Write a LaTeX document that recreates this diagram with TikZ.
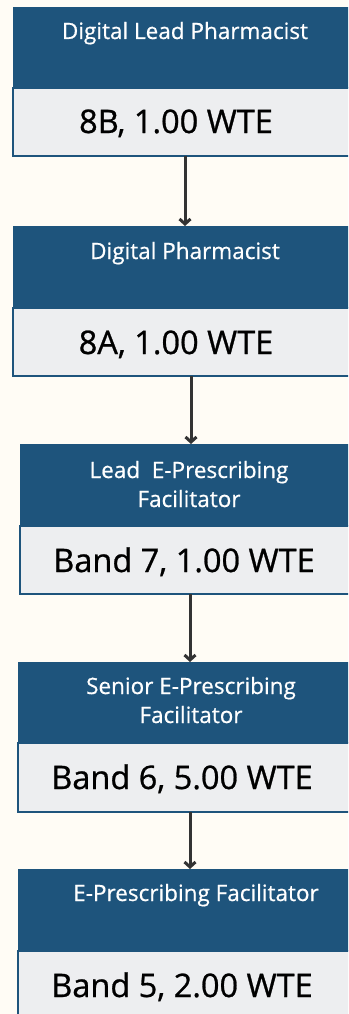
\documentclass[tikz,border=0pt]{standalone}
\usepackage{fontspec}
\setmainfont{Open Sans}
\newfontfamily\ttlfont[FakeBold=0.6]{Open Sans}
\newfontfamily\valfont[FakeBold=0.8]{Open Sans}
\usetikzlibrary{arrows.meta}
\definecolor{hdr}{HTML}{1E547C}
\definecolor{gry}{HTML}{EDEEF0}
\definecolor{bgc}{HTML}{FFFCF5}
\definecolor{arrc}{HTML}{333333}
\begin{document}
\begin{tikzpicture}[x=1pt,y=-1pt,
  hbox/.style={fill=hdr, draw=none, inner sep=0pt, outer sep=0pt, anchor=north west, minimum width=344pt, minimum height=#1},
  gbox/.style={fill=gry, draw=hdr, line width=1.5pt, inner sep=0pt, outer sep=0pt, anchor=north west, minimum width=344pt, minimum height=#1},
  ttl/.style={text=white, font=\ttlfont\fontsize{22.5}{29}\selectfont, anchor=base, inner sep=0pt, align=center},
  val/.style={text=black, font=\valfont\fontsize{32.5}{36}\selectfont, anchor=base, inner sep=0pt},
  conn/.style={draw=arrc, line width=3pt, -{Straight Barb[length=5pt,width=11pt,line width=3pt]}}
]
\useasboundingbox (0,0) rectangle (348,1014);
\fill[bgc] (0,0) rectangle (348,1014);
\clip (0,0) rectangle (348,1014);
% box 1
\node[hbox=81pt] (h1) at (13,7) {};
\node[gbox=68pt] (g1) at (13,88) {};
\node[ttl] (t1) at (185,39) {Digital Lead Pharmacist};
\node[val] (v1) at (176,133) {8B, 1.00 WTE};
% box 2
\node[hbox=82pt] (h2) at (13,226) {};
\node[gbox=68pt] (g2) at (13,308) {};
\node[ttl] (t2) at (185,259) {Digital Pharmacist};
\node[val] (v2) at (176,354) {8A, 1.00 WTE};
% box 3
\node[hbox=82pt, minimum width=342pt] (h3) at (20,444) {};
\node[gbox=68pt, minimum width=342pt] (g3) at (20,526) {};
\node[ttl] (t3) at (189,507) {Lead\ \ E-Prescribing\\Facilitator};
\node[val] (v3) at (184,572) {Band 7, 1.00 WTE};
% box 4
\node[hbox=81pt] (h4) at (18,662) {};
\node[gbox=69pt] (g4) at (18,743) {};
\node[ttl] (t4) at (191,723) {Senior E-Prescribing\\Facilitator};
\node[val] (v4) at (182,789) {Band 6, 5.00 WTE};
% box 5
\node[hbox=82pt] (h5) at (18,869) {};
\node[gbox=90pt] (g5) at (18,951) {};
\node[ttl] (t5) at (196,901) {E-Prescribing Facilitator};
\node[val] (v5) at (182,997) {Band 5, 2.00 WTE};
% connectors
\draw[conn] (g1.south) -- (h2.north);
\draw[conn] (g2.south -| h3.north) -- (h3.north);
\draw[conn] (g3.south -| h4.north) -- (h4.north);
\draw[conn] (g4.south -| h5.north) -- (h5.north);
\end{tikzpicture}
\end{document}
